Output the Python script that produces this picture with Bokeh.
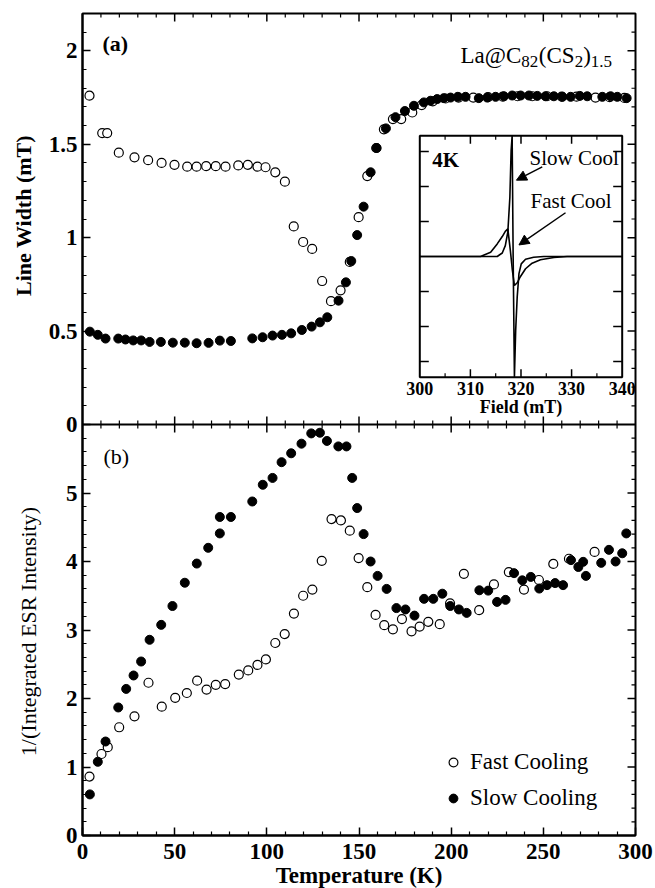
import numpy as np
from bokeh.plotting import figure
from bokeh.layouts import row
from bokeh.models import (Range1d, FixedTicker, Span, Label, Legend,
                          LegendItem, Arrow, NormalHead)
from bokeh.core.properties import value
from bokeh.embed import file_html
from bokeh.resources import INLINE

SERIF = "Liberation Serif"

# ---------------- data: panel (a) line width (mT) ----------------
fast_T_a = [3.8, 10.7, 13.4, 19.7, 28.2, 35.6, 42.9, 49.9, 56.8, 61.9, 67.1, 72.3, 77.6,
            84.5, 89.7, 94.9, 99.3, 104.6, 109.8, 114.6, 119.7, 124.6, 130.0, 134.8,
            140.0, 145.0, 149.8, 154.5, 159.4, 163.5, 168.4, 172.9, 178.9, 184.0, 190.0,
            197.0, 204.0, 212.0, 220.0, 228.0, 236.0, 244.0, 252.0, 260.0, 268.0, 278.3,
            286.0, 294.0]
fast_LW_a = [1.76, 1.56, 1.56, 1.455, 1.43, 1.415, 1.40, 1.39, 1.38, 1.38, 1.383, 1.383, 1.38,
             1.387, 1.39, 1.38, 1.377, 1.35, 1.30, 1.06, 0.977, 0.94, 0.768, 0.66,
             0.718, 0.87, 1.11, 1.33, 1.48, 1.58, 1.635, 1.635, 1.67, 1.71, 1.73,
             1.745, 1.75, 1.75, 1.752, 1.755, 1.757, 1.757, 1.757, 1.755, 1.755, 1.75,
             1.752, 1.748]
slow_T_a = [4.0, 8.3, 12.5, 19.4, 23.3, 27.5, 31.8, 36.4, 42.5, 49.0, 55.5, 61.9, 68.4, 74.5,
            80.5, 92.1, 97.7, 103.1, 108.2, 113.2, 119.0, 124.3, 128.8, 132.8, 138.9, 142.9,
            145.8, 149.0, 152.5, 156.3, 159.5, 164.6, 169.8, 174.9, 179.8, 185.2, 188.8,
            192.4, 196.0, 199.7, 203.6, 207.8, 215.0, 219.6, 224.1, 228.6, 233.1, 237.7,
            242.2, 246.7, 251.2, 255.7, 260.3, 264.8, 269.8, 273.8, 282.0, 286.5, 290.1, 295.2]
slow_LW_a = [0.497, 0.48, 0.46, 0.46, 0.455, 0.45, 0.45, 0.442, 0.442, 0.438, 0.438, 0.435,
             0.437, 0.449, 0.447, 0.461, 0.467, 0.476, 0.48, 0.488, 0.506, 0.524, 0.547,
             0.574, 0.663, 0.761, 0.875, 1.014, 1.166, 1.35, 1.48, 1.585, 1.645, 1.678,
             1.706, 1.724, 1.733, 1.742, 1.747, 1.75, 1.754, 1.754, 1.747, 1.75, 1.754,
             1.757, 1.761, 1.761, 1.761, 1.759, 1.757, 1.757, 1.754, 1.754, 1.759, 1.757,
             1.754, 1.757, 1.754, 1.747]

# ---------------- data: panel (b) 1/(integrated ESR intensity) ----------------
fast_T_b = [3.8, 10.3, 13.7, 19.9, 28.2, 35.8, 43.0, 50.3, 56.6, 62.2, 67.3, 72.3, 77.4,
            84.8, 89.9, 94.9, 99.5, 104.6, 109.7, 114.7, 119.7, 124.7, 129.8, 135.1, 140.2,
            145.0, 149.8, 154.5, 159.0, 163.7, 168.4, 173.3, 178.5, 182.9, 187.6, 193.8,
            199.4, 206.9, 215.2, 223.2, 231.3, 239.5, 247.6, 255.4, 263.9, 277.8]
fast_I_b = [0.86, 1.19, 1.29, 1.58, 1.74, 2.23, 1.88, 2.01, 2.08, 2.26, 2.13, 2.20, 2.21,
            2.35, 2.41, 2.49, 2.57, 2.81, 2.94, 3.24, 3.50, 3.59, 4.01, 4.62, 4.60,
            4.45, 4.05, 3.625, 3.22, 3.07, 3.01, 3.16, 2.98, 3.05, 3.12, 3.085,
            3.39, 3.82, 3.29, 3.665, 3.845, 3.59, 3.73, 3.965, 4.04, 4.14]
slow_T_b = [4.0, 8.3, 12.5, 19.4, 23.7, 27.7, 31.8, 36.4, 42.7, 48.8, 55.5, 62.0, 68.2, 74.5,
            74.5, 80.5, 92.1, 97.8, 103.1, 108.0, 113.2, 118.8, 124.1, 128.8, 132.6, 138.8,
            143.2, 146.3, 149.0, 152.5, 156.3, 160.1, 165.0, 170.3, 175.2, 180.1, 185.3,
            190.3, 195.2, 199.5, 204.2, 208.4, 215.3, 220.1, 224.9, 229.5, 234.1, 238.6,
            243.2, 247.8, 252.0, 256.4, 260.7, 265.0, 269.0, 271.6, 273.1, 281.4, 285.6,
            289.2, 292.8, 295.0]
slow_I_b = [0.60, 1.076, 1.372, 1.869, 2.14, 2.336, 2.54, 2.857, 3.075, 3.35, 3.69, 3.97,
            4.20, 4.41, 4.65, 4.65, 4.876, 5.12, 5.22, 5.45, 5.58, 5.72, 5.87, 5.88, 5.76,
            5.68, 5.68, 5.22, 4.78, 4.40, 4.00, 3.79, 3.60, 3.32, 3.30, 3.21, 3.455,
            3.455, 3.53, 3.35, 3.30, 3.25, 3.58, 3.575, 3.41, 3.44, 3.83, 3.725,
            3.775, 3.605, 3.655, 3.685, 3.655, 4.02, 3.92, 3.995, 3.79, 3.98, 4.17,
            4.0, 4.12, 4.41]

# ---------------- data: inset ESR spectra at 4 K ----------------
fast_field = [300, 312.0, 314.0, 315.3, 316.3, 316.9, 317.4, 317.9, 318.3, 318.7, 319.25,
              319.9, 320.9, 322.2, 323.85, 326.5, 329.1, 340]
fast_sig = [0, 0, 0.12, 0.36, 0.57, 0.72, 0.79, 0.17, -0.40, -0.83, -0.75,
            -0.57, -0.35, -0.19, -0.095, -0.03, 0, 0]
slow_field = [300, 315.3, 316.3, 316.9, 317.4, 317.8, 318.05, 318.25, 318.45, 318.7, 318.95,
              319.25, 319.6, 320.05, 320.9, 322.5, 324.5, 340]
slow_sig = [0, 0, 0.10, 0.31, 0.70, 1.69, 3.03, 3.45, 0.0, -3.45, -2.11,
            -1.16, -0.49, -0.21, -0.08, -0.02, 0, 0]

# ---------------- ticks ----------------
T_ticks = [0, 50, 100, 150, 200, 250, 300]
T_minor = [t for t in range(10, 300, 10) if t % 50]
lw_ticks = [0, 0.5, 1, 1.5, 2]
lw_labels = ["0", "0.5", "1", "1.5", "2"]
lw_minor = [k / 10 for k in range(1, 22) if k % 5]
I_ticks = [0, 1, 2, 3, 4, 5]
I_minor = [k / 5 for k in range(1, 30) if k % 5]
field_ticks = [300, 310, 320, 330, 340]
field_minor = [305, 315, 325, 335]
sig_ticks = [-3, -2, -1, 1, 2, 3]

LW_MAX = 2.2      # top of panel (a)
I_MAX = 6.0       # top of panel (b) (= panel boundary in main coordinates)
BOX_SIG = 3.45    # inset half height
TITLE_W = 44      # width of the strip that holds the two y-axis titles

def lw_pos(v):
    return I_MAX + v * I_MAX / LW_MAX

p = figure(frame_width=553, frame_height=822, x_range=Range1d(0, 300),
           y_range=Range1d(0, 2 * I_MAX), output_backend="svg", toolbar_location=None,
           min_border_left=82 - TITLE_W, min_border_right=18, min_border_top=13,
           min_border_bottom=0, background_fill_color="white", border_fill_color="white")
p.extra_y_ranges = {"lw": Range1d(-LW_MAX, LW_MAX), "fy": Range1d(-16.543, 6.943)}
p.extra_x_ranges = {"fx": Range1d(233.34, 342.63)}
p.xgrid.visible = False
p.ygrid.visible = False
p.outline_line_color = "black"
p.outline_line_width = 2

def style_axis(ax, standoff):
    ax.axis_line_width = 2
    ax.axis_line_color = "black"
    ax.major_tick_in = 8
    ax.major_tick_out = 0
    ax.minor_tick_in = 4
    ax.minor_tick_out = 0
    ax.major_tick_line_width = 1.5
    ax.minor_tick_line_width = 1.2
    ax.major_tick_line_color = "black"
    ax.minor_tick_line_color = "black"
    ax.major_label_text_font = SERIF
    ax.major_label_text_font_size = "23px"
    ax.major_label_text_font_style = "bold"
    ax.major_label_text_color = "black"
    ax.major_label_standoff = standoff

x_ticker = FixedTicker(ticks=T_ticks, minor_ticks=T_minor)
y_major = list(I_ticks) + [lw_pos(v) for v in lw_ticks]
y_minor = list(I_minor) + [lw_pos(v) for v in lw_minor]
y_ticker = FixedTicker(ticks=y_major, minor_ticks=y_minor)
y_over = {float(v): str(v) for v in I_ticks}
for v, lab in zip(lw_ticks, lw_labels):
    y_over[lw_pos(v)] = lab

xb = p.xaxis[0]
xb.ticker = x_ticker
style_axis(xb, 8)
xb.axis_label = "Temperature (K)"
xb.axis_label_text_font = SERIF
xb.axis_label_text_font_size = "23px"
xb.axis_label_text_font_style = "bold"
xb.axis_label_text_color = "black"
xb.axis_label_standoff = 1

yl = p.yaxis[0]
yl.ticker = y_ticker
yl.major_label_overrides = y_over
style_axis(yl, 5)

tick_kw = dict(length_units="screen", line_color="black")
# mirrored ticks on the top edge and right edge
p.ray(x=T_ticks[1:-1], y=[2 * I_MAX] * (len(T_ticks) - 2), length=8, angle=-np.pi / 2,
      line_width=1.5, **tick_kw)
p.ray(x=T_minor, y=[2 * I_MAX] * len(T_minor), length=4, angle=-np.pi / 2,
      line_width=1.2, **tick_kw)
y_major_inner = [v for v in y_major if 0 < v < 2 * I_MAX and v != I_MAX]
p.ray(x=[300] * len(y_major_inner), y=y_major_inner, length=8, angle=np.pi,
      line_width=1.5, **tick_kw)
p.ray(x=[300] * len(y_minor), y=y_minor, length=4, angle=np.pi, line_width=1.2, **tick_kw)

# panel boundary with ticks on both sides
p.add_layout(Span(location=I_MAX, dimension="width", line_color="black", line_width=2))
for ang in (np.pi / 2, -np.pi / 2):
    p.ray(x=T_ticks[1:-1], y=[I_MAX] * (len(T_ticks) - 2), length=8, angle=ang,
          line_width=1.5, **tick_kw)
    p.ray(x=T_minor, y=[I_MAX] * len(T_minor), length=4, angle=ang, line_width=1.2, **tick_kw)

# ---------- panel (a) ----------
p.scatter(fast_T_a, fast_LW_a, y_range_name="lw", marker="circle", size=9,
          fill_color="white", line_color="black", line_width=1.2)
p.scatter(slow_T_a, slow_LW_a, y_range_name="lw", marker="circle", size=9,
          fill_color="black", line_color="black", line_width=1)

# ---------- panel (b) ----------
r_fast = p.scatter(fast_T_b, fast_I_b, marker="circle", size=9,
                   fill_color="white", line_color="black", line_width=1.2)
r_slow = p.scatter(slow_T_b, slow_I_b, marker="circle", size=9,
                   fill_color="black", line_color="black", line_width=1)

p.add_layout(Label(x=10.8, y=2.04, y_range_name="lw", text="(a)", text_baseline="middle",
                   text_font=SERIF, text_font_size="22px", text_font_style="bold",
                   text_color="black"))
p.add_layout(Label(x=11.4, y=5.526, text="(b)", text_baseline="middle",
                   text_font=SERIF, text_font_size="22px", text_color="black"))

# compound formula label
base_x, base_y, sub_y = 205.1, 1.975, 1.942
pieces = [("La@C", 0, base_y, "23px"), ("82", 60.8, sub_y, "17px"), ("(CS", 78.3, base_y, "23px"),
          ("2", 114.1, sub_y, "17px"), (")", 122.6, base_y, "23px"), ("1.5", 130.3, sub_y, "17px")]
for txt, off, yy, fs in pieces:
    p.add_layout(Label(x=base_x, y=yy, y_range_name="lw", x_offset=off, text=txt,
                       text_baseline="alphabetic", text_font=SERIF, text_font_size=fs,
                       text_color="black"))

legend = Legend(items=[LegendItem(label="Fast Cooling", renderers=[r_fast]),
                       LegendItem(label="Slow Cooling", renderers=[r_slow])],
                location=(360, 24), label_text_font=SERIF, label_text_font_size="23px",
                label_text_color="black",
                glyph_width=22, glyph_height=22, label_standoff=6, spacing=10, padding=0,
                margin=0, border_line_color=None, background_fill_alpha=0)
p.add_layout(legend)

# ---------- inset ----------
kw = dict(x_range_name="fx", y_range_name="fy")
p.quad(left=[field_ticks[0]], right=[field_ticks[-1]], bottom=[-BOX_SIG], top=[BOX_SIG],
       fill_color="white", line_color="black", line_width=2, **kw)
p.line(fast_field, fast_sig, line_color="black", line_width=1.6, **kw)
p.line(slow_field, slow_sig, line_color="black", line_width=1.6, **kw)
inner = field_ticks[1:-1]
p.ray(x=inner, y=[-BOX_SIG] * len(inner), length=8, angle=np.pi / 2, line_width=1.5,
      **tick_kw, **kw)
p.ray(x=inner, y=[BOX_SIG] * len(inner), length=8, angle=-np.pi / 2, line_width=1.5,
      **tick_kw, **kw)
p.ray(x=field_minor, y=[-BOX_SIG] * len(field_minor), length=4, angle=np.pi / 2,
      line_width=1.2, **tick_kw, **kw)
p.ray(x=field_minor, y=[BOX_SIG] * len(field_minor), length=4, angle=-np.pi / 2,
      line_width=1.2, **tick_kw, **kw)
p.ray(x=[field_ticks[0]] * len(sig_ticks), y=sig_ticks, length=9, angle=0,
      line_width=1.5, **tick_kw, **kw)
p.ray(x=[field_ticks[-1]] * len(sig_ticks), y=sig_ticks, length=9, angle=np.pi,
      line_width=1.5, **tick_kw, **kw)
p.text(x=field_ticks, y=[-BOX_SIG] * len(field_ticks), text=[str(f) for f in field_ticks],
       y_offset=5, text_align="center", text_baseline="top", text_font=value(SERIF),
       text_font_size="18px", text_font_style="bold", text_color="black", **kw)
p.text(x=[320], y=[-BOX_SIG], text=["Field (mT)"], y_offset=20, text_align="center",
       text_baseline="top", text_font=value(SERIF), text_font_size="18px",
       text_font_style="bold", text_color="black", **kw)
p.add_layout(Label(x=302.45, y=2.77, text="4K", text_baseline="middle", text_font=SERIF,
                   text_font_size="21px", text_font_style="bold", text_color="black", **kw))
p.add_layout(Label(x=321.7, y=2.82, text="Slow Cool", text_baseline="middle", text_font=SERIF,
                   text_font_size="21px", text_color="black", **kw))
p.add_layout(Label(x=321.9, y=1.58, text="Fast Cool", text_baseline="middle", text_font=SERIF,
                   text_font_size="21px", text_color="black", **kw))
p.add_layout(Arrow(end=NormalHead(size=10, fill_color="black", line_color="black"),
                   x_start=324.2, y_start=2.56, x_end=319.1, y_end=2.18,
                   line_width=1.5, **kw))
p.add_layout(Arrow(end=NormalHead(size=10, fill_color="black", line_color="black"),
                   x_start=328.8, y_start=1.25, x_end=319.6, y_end=0.33,
                   line_width=1.5, **kw))

# ---------- strip with the two y-axis titles (pixel coordinates, y down) ----------
STRIP_H = 860
t = figure(frame_width=TITLE_W, frame_height=STRIP_H, x_range=Range1d(0, TITLE_W),
           y_range=Range1d(STRIP_H, 0), output_backend="svg", toolbar_location=None,
           x_axis_location=None, y_axis_location=None, min_border=0,
           outline_line_color=None, background_fill_color="white",
           border_fill_color="white")
t.xgrid.visible = False
t.ygrid.visible = False
t.text(x=[23], y=[202], text=["Line Width (mT)"], angle=np.pi / 2, text_align="center",
       text_baseline="middle", text_font=value(SERIF), text_font_size="22px",
       text_font_style="bold", text_color="black")
t.text(x=[28], y=[618], text=["1/(Integrated ESR Intensity)"], angle=np.pi / 2,
       text_align="center", text_baseline="middle", text_font=value(SERIF),
       text_font_size="22px", text_color="black")

layout = row(t, p, spacing=0)
open("out.html", "w").write(file_html(layout, INLINE))
